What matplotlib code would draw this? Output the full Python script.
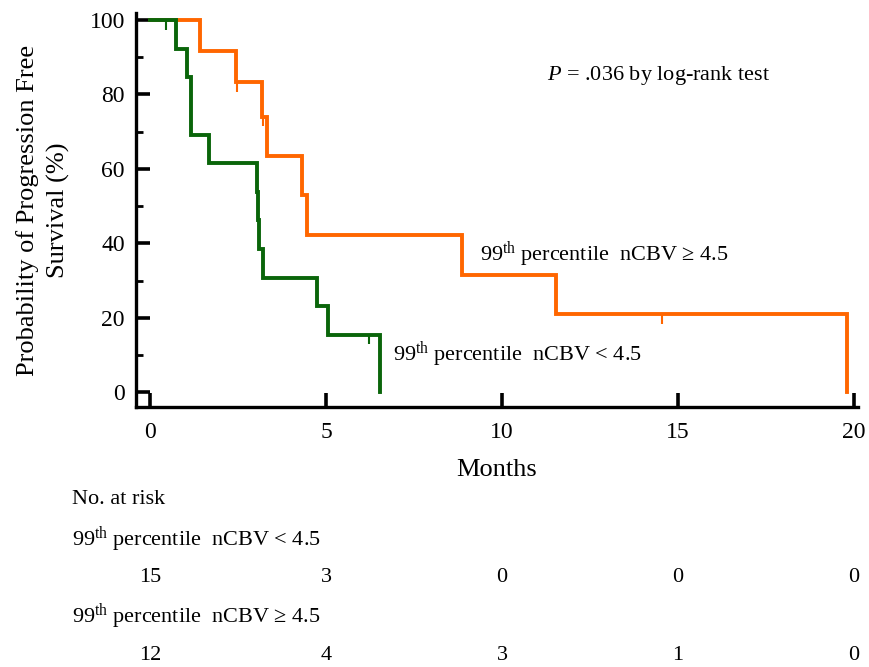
import matplotlib
matplotlib.use("Agg")
import matplotlib.pyplot as plt
from matplotlib.ticker import MultipleLocator
import matplotlib.transforms as mtransforms

plt.rcParams['font.family'] = ['Liberation Serif', 'DejaVu Serif']
plt.rcParams['mathtext.fontset'] = 'custom'
plt.rcParams['mathtext.rm'] = 'Liberation Serif'
plt.rcParams['mathtext.it'] = 'Liberation Serif:italic'

# ---- data ----
high_times = [0, 1.42, 2.44, 3.18, 3.32, 4.32, 4.46, 8.86, 11.53, 19.8]
high_surv = [100, 91.7, 83.3, 74.0, 63.5, 52.9, 42.3, 31.5, 21.0, 0]
high_cens_t = [2.47, 3.22, 14.55]
high_cens_s = [83.3, 74.0, 21.0]

low_times = [0, 0.74, 1.04, 1.16, 1.68, 3.03, 3.07, 3.10, 3.22, 4.74, 5.06, 6.53]
low_surv = [100, 92.3, 84.6, 69.2, 61.5, 53.8, 46.2, 38.5, 30.8, 23.1, 15.4, 0]
low_cens_t = [0.45, 6.22]
low_cens_s = [100, 15.4]

risk_times = [0, 5, 10, 15, 20]
risk_low = [15, 3, 0, 0, 0]
risk_high = [12, 4, 3, 1, 0]

label_low = "99$^{\\mathrm{th}}$ percentile  nCBV < 4.5"
label_high = "99$^{\\mathrm{th}}$ percentile  nCBV \u2265 4.5"

orange = "#FF6600"
green = "#0A650A"

fig = plt.figure(figsize=(8.7, 6.67), dpi=100)
ax = fig.add_axes([136/870, 1 - 407/667, (858-136)/870, (407-13)/667])

ax.step(high_times, high_surv, where='post', color=orange, lw=2.8, solid_joinstyle='miter', zorder=3)
ax.step(low_times, low_surv, where='post', color=green, lw=2.8, solid_joinstyle='miter', zorder=3)
ax.vlines(high_cens_t, [s - 2.6 for s in high_cens_s], high_cens_s, color=orange, lw=1.5, zorder=3)
ax.vlines(low_cens_t, [s - 2.6 for s in low_cens_s], low_cens_s, color=green, lw=1.5, zorder=3)

ax.set_xlim(-0.4, 20.11)
ax.set_ylim(-4.0, 101.9)

for s in ['top', 'right']:
    ax.spines[s].set_visible(False)
for s in ['left', 'bottom']:
    ax.spines[s].set_linewidth(2.4)

ax.xaxis.set_major_locator(MultipleLocator(5))
ax.yaxis.set_major_locator(MultipleLocator(20))
ax.yaxis.set_minor_locator(MultipleLocator(10))
ax.tick_params(axis='both', which='major', direction='in', length=10, width=2.6, labelsize=17, zorder=5)
ax.tick_params(axis='y', which='minor', direction='in', length=5, width=2.0)
ax.tick_params(axis='x', which='major', pad=11)
ax.tick_params(axis='y', which='major', pad=8)

ax.set_xlabel("Months", fontsize=19, labelpad=11.5)
ax.set_ylabel("Probability of Progression Free\nSurvival (%)", fontsize=19, labelpad=14, linespacing=1.45)

ax.text(9.375, 36.8, label_high, fontsize=16, ha='left', va='center')
ax.text(6.9, 10.0, label_low, fontsize=16, ha='left', va='center')
ax.text(11.28, 85.2, "$P$ = .036 by log-rank test", fontsize=16, ha='left', va='center')

# at-risk table
fig.text(72/870, 1 - 499/667, "No. at risk", fontsize=16, ha='left', va='center')
fig.text(72/870, 1 - 540/667, label_low, fontsize=16, ha='left', va='center')
fig.text(72/870, 1 - 617/667, label_high, fontsize=16, ha='left', va='center')
trans = mtransforms.blended_transform_factory(ax.transData, fig.transFigure)
for t, n in zip(risk_times, risk_low):
    ax.text(t, 1 - 578/667, str(n), transform=trans, fontsize=16, ha='center', va='center')
for t, n in zip(risk_times, risk_high):
    ax.text(t, 1 - 656/667, str(n), transform=trans, fontsize=16, ha='center', va='center')

fig.savefig("out.png", dpi=100)
